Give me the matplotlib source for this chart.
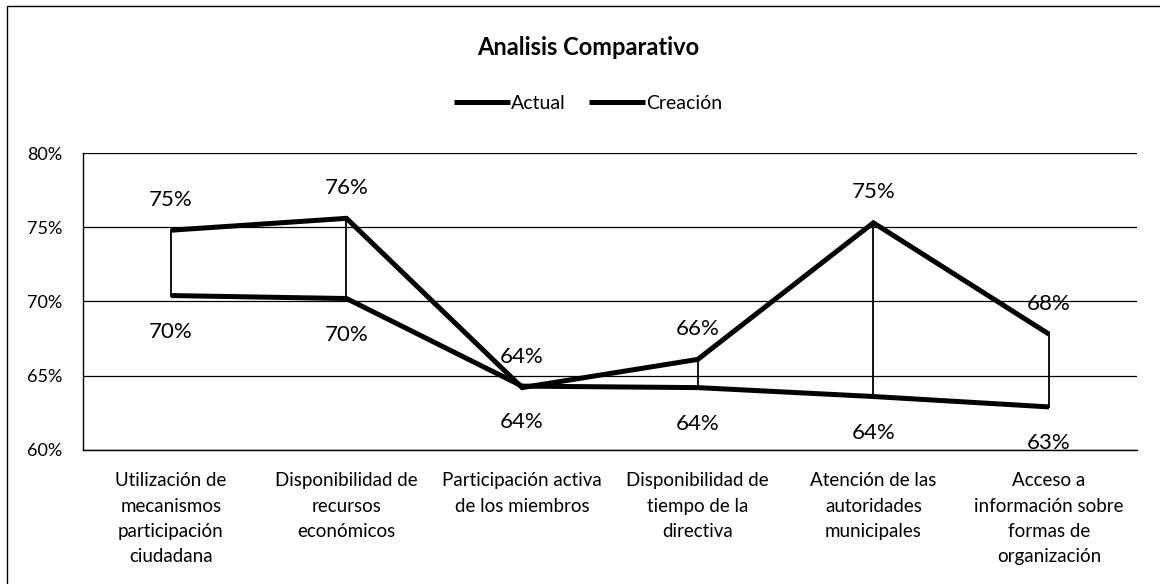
import matplotlib
matplotlib.use("Agg")
import matplotlib.pyplot as plt
from matplotlib.patches import Rectangle
from matplotlib.ticker import FuncFormatter

plt.rcParams['font.family'] = ['Lato', 'DejaVu Sans']

categories = [
    "Utilización de\nmecanismos\nparticipación\nciudadana",
    "Disponibilidad de\nrecursos\neconómicos",
    "Participación activa\nde los miembros",
    "Disponibilidad de\ntiempo de la\ndirectiva",
    "Atención de las\nautoridades\nmunicipales",
    "Acceso a\ninformación sobre\nformas de\norganización",
]
actual = [0.704, 0.702, 0.643, 0.642, 0.636, 0.629]
creacion = [0.748, 0.756, 0.642, 0.661, 0.753, 0.678]
y_ticks = [0.60, 0.65, 0.70, 0.75, 0.80]

fig = plt.figure(figsize=(11.6, 5.84), dpi=100)
fig.patches.append(Rectangle((0.006, -0.01), 1.0, 1.0, transform=fig.transFigure,
                             fill=False, edgecolor='black', linewidth=1.0))

ax = fig.add_axes([0.0716, 0.2295, 0.9084, 0.5085])
x = list(range(len(categories)))

# vertical high-low connectors between the two series
for xi, a, c in zip(x, actual, creacion):
    ax.plot([xi, xi], [a, c], color='black', linewidth=1.3, zorder=2)

ax.plot(x, actual, color='black', linewidth=3.6, solid_capstyle='butt',
        solid_joinstyle='miter', label='Actual', zorder=3)
ax.plot(x, creacion, color='black', linewidth=3.6, solid_capstyle='butt',
        solid_joinstyle='miter', label='Creación', zorder=3)

for xi, a, c in zip(x, actual, creacion):
    ax.annotate(f"{round(c * 100):.0f}%", (xi, c), xytext=(0, 22), textcoords='offset points',
                ha='center', va='center', fontsize=16)
    ax.annotate(f"{round(a * 100):.0f}%", (xi, a), xytext=(0, -26), textcoords='offset points',
                ha='center', va='center', fontsize=16)

ax.set_xlim(-0.5, len(categories) - 0.5)
ax.set_ylim(0.60, 0.80)
ax.set_yticks(y_ticks)
ax.yaxis.set_major_formatter(FuncFormatter(lambda v, p: f"{v * 100:.0f}%"))
ax.set_xticks(x)
ax.set_xticklabels(categories, fontsize=13.5, linespacing=1.6)
ax.tick_params(axis='x', length=0, pad=16)
ax.tick_params(axis='y', length=0, pad=15, labelsize=13)
ax.grid(axis='y', color='black', linewidth=0.9)
ax.set_axisbelow(True)
for s in ['top', 'right']:
    ax.spines[s].set_visible(False)
ax.spines['left'].set_linewidth(1.0)
ax.spines['bottom'].set_linewidth(1.0)

fig.text(0.507, 0.918, "Analisis Comparativo", ha='center', va='center',
         fontsize=17, fontweight='bold')
fig.legend(loc='center', bbox_to_anchor=(0.507, 0.823), ncol=2, frameon=False,
           fontsize=14, handlelength=2.9, handletextpad=0.05, columnspacing=1.2)

fig.savefig("out.png", dpi=100)
